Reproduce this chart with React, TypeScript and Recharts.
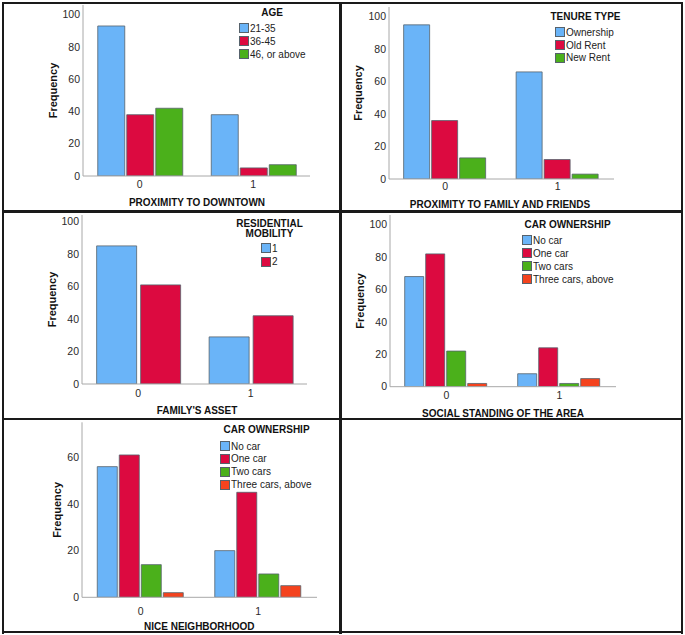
import { BarChart, Bar, XAxis, YAxis, Label } from "recharts";

const FONT = "'Liberation Sans', Arial, Helvetica, sans-serif";

const BLUE = "#6ab4f8";
const RED = "#dc0a40";
const GREEN = "#4bb01b";
const ORANGE = "#f4431e";

// categories on every x axis
const cats = ["0", "1"];

// y ticks
const ticks100 = [0, 20, 40, 60, 80, 100];
const ticks60 = [0, 20, 40, 60];

// AGE by proximity to downtown
const ageNames = ["21-35", "36-45", "46, or above"];
const age2135 = [93, 38];
const age3645 = [38, 5];
const age46 = [42, 7];

// TENURE TYPE by proximity to family and friends
const tenureNames = ["Ownership", "Old Rent", "New Rent"];
const ownership = [95, 66];
const oldRent = [36, 12];
const newRent = [13, 3];

// RESIDENTIAL MOBILITY by family's asset
const mobilityNames = ["1", "2"];
const mobility1 = [85, 29];
const mobility2 = [61, 42];

// CAR OWNERSHIP by social standing of the area
const carNames = ["No car", "One car", "Two cars", "Three cars, above"];
const socialNoCar = [68, 8];
const socialOneCar = [82, 24];
const socialTwoCars = [22, 2];
const socialThreeCars = [2, 5];

// CAR OWNERSHIP by nice neighborhood
const niceNoCar = [56, 20];
const niceOneCar = [61, 45];
const niceTwoCars = [14, 10];
const niceThreeCars = [2, 5];

const toRows = (series: number[][]) =>
  cats.map((c, i) => {
    const row: any = { cat: c };
    series.forEach((s, k) => (row["s" + k] = s[i]));
    return row;
  });

type Box = { x: number; y: number; w: number; h: number };
type Plot = { left: number; right: number; top: number; bottom: number };

interface PanelProps {
  box: Box;
  plot: Plot;
  yMax: number;
  yTicks: number[];
  series: number[][];
  names: string[];
  colors: string[];
  xTitle: string;
  xTitleX: number;
  xTitleY: number;
  tickGap: number;
  freqX: number;
  barGap: number;
  legendTitle: string[];
  legendTitleX: number;
  legendTitleY: number;
  swatchX: number;
  rowY: number;
  rowStep: number;
}

function Panel(p: PanelProps) {
  const { box, plot } = p;
  const data = toRows(p.series);
  const margin = {
    top: plot.top - box.y,
    right: box.x + box.w - plot.right,
    bottom: 0,
    left: 0,
  };
  const yW = plot.left - box.x;
  const xH = box.y + box.h - plot.bottom;
  const fx = p.freqX - box.x;
  const fy = (plot.top + plot.bottom) / 2 - box.y;

  return (
    <div style={{ position: "absolute", left: box.x, top: box.y, width: box.w, height: box.h }}>
      <BarChart
        width={box.w}
        height={box.h}
        data={data}
        margin={margin}
        barGap={p.barGap}
        barCategoryGap="13%"
      >
        <XAxis
          dataKey="cat"
          height={xH}
          tickLine={false}
          tickSize={0}
          tickMargin={p.tickGap - 4}
          stroke="#a8a8a8"
          tick={{ fill: "#2a2a2a", fontSize: 10.5, fontFamily: FONT }}
        >
          <Label
            content={() => (
              <text
                x={p.xTitleX - box.x}
                y={p.xTitleY - box.y}
                textAnchor="middle"
                dominantBaseline="central"
                fontFamily={FONT}
                fontSize={10}
                fontWeight="bold"
                fill="#111"
              >
                {p.xTitle}
              </text>
            )}
          />
        </XAxis>
        <YAxis
          width={yW}
          type="number"
          domain={[0, p.yMax]}
          allowDataOverflow
          ticks={p.yTicks}
          tickLine={false}
          tickSize={0}
          tickMargin={3}
          stroke="#a8a8a8"
          tick={{ fill: "#2a2a2a", fontSize: 10.5, fontFamily: FONT }}
        >
          <Label
            content={() => (
              <text
                x={fx}
                y={fy}
                transform={`rotate(-90 ${fx} ${fy})`}
                textAnchor="middle"
                dominantBaseline="central"
                fontFamily={FONT}
                fontSize={11}
                fontWeight="bold"
                fill="#111"
              >
                Frequency
              </text>
            )}
          />
        </YAxis>
        {p.series.map((_, k) => (
          <Bar
            key={k}
            dataKey={"s" + k}
            name={p.names[k]}
            fill={p.colors[k]}
            stroke="#56626c"
            strokeWidth={0.8}
            isAnimationActive={false}
          />
        ))}
      </BarChart>

      {/* Legend */}
      {p.legendTitle.map((line, i) => (
        <div
          key={line}
          style={{
            position: "absolute",
            left: p.legendTitleX - box.x - 80,
            width: 160,
            top: p.legendTitleY - box.y - 5 + i * 9.5,
            height: 10,
            lineHeight: "10px",
            textAlign: "center",
            fontFamily: FONT,
            fontSize: 10,
            fontWeight: "bold",
            color: "#111",
          }}
        >
          {line}
        </div>
      ))}
      {p.names.map((n, k) => (
        <div
          key={n}
          style={{
            position: "absolute",
            left: p.swatchX - box.x,
            top: p.rowY - box.y + k * p.rowStep - 6,
            height: 12,
            display: "flex",
            alignItems: "center",
            fontFamily: FONT,
            fontSize: 10,
            color: "#222",
            whiteSpace: "nowrap",
          }}
        >
          <span
            style={{
              display: "inline-block",
              boxSizing: "border-box",
              width: 10,
              height: 10,
              background: p.colors[k],
              border: "1px solid #56626c",
              marginRight: 1,
            }}
          />
          {n}
        </div>
      ))}
    </div>
  );
}

const line = (s: any) => ({ position: "absolute" as const, background: "#1a1a1a", ...s });

export default function App() {
  return (
    <div
      style={{
        position: "absolute",
        left: 0,
        top: 0,
        width: 685,
        height: 635,
        background: "#fff",
        overflow: "hidden",
      }}
    >
      <Panel
        box={{ x: 3, y: 3, w: 335, h: 207 }}
        plot={{ left: 83, right: 310, top: 5, bottom: 176 }}
        yMax={106}
        yTicks={ticks100}
        series={[age2135, age3645, age46]}
        names={ageNames}
        colors={[BLUE, RED, GREEN]}
        xTitle="PROXIMITY TO DOWNTOWN"
        xTitleX={197}
        xTitleY={202}
        tickGap={9}
        freqX={53}
        barGap={2}
        legendTitle={["AGE"]}
        legendTitleX={272}
        legendTitleY={13}
        swatchX={239}
        rowY={28}
        rowStep={13}
      />
      <Panel
        box={{ x: 341, y: 3, w: 339, h: 207 }}
        plot={{ left: 389, right: 614, top: 7, bottom: 179 }}
        yMax={106}
        yTicks={ticks100}
        series={[ownership, oldRent, newRent]}
        names={tenureNames}
        colors={[BLUE, RED, GREEN]}
        xTitle="PROXIMITY TO FAMILY AND FRIENDS"
        xTitleX={500}
        xTitleY={204}
        tickGap={8}
        freqX={358}
        barGap={2}
        legendTitle={["TENURE TYPE"]}
        legendTitleX={585.5}
        legendTitleY={16.7}
        swatchX={555}
        rowY={32.3}
        rowStep={12.7}
      />
      <Panel
        box={{ x: 3, y: 213, w: 335, h: 205 }}
        plot={{ left: 82, right: 307, top: 215, bottom: 384 }}
        yMax={104}
        yTicks={ticks100}
        series={[mobility1, mobility2]}
        names={mobilityNames}
        colors={[BLUE, RED]}
        xTitle="FAMILY'S ASSET"
        xTitleX={197}
        xTitleY={410.7}
        tickGap={10}
        freqX={52}
        barGap={4}
        legendTitle={["RESIDENTIAL", "MOBILITY"]}
        legendTitleX={269.5}
        legendTitleY={224}
        swatchX={261}
        rowY={248.3}
        rowStep={13.4}
      />
      <Panel
        box={{ x: 341, y: 213, w: 339, h: 205 }}
        plot={{ left: 390, right: 616, top: 215, bottom: 386.7 }}
        yMax={106}
        yTicks={ticks100}
        series={[socialNoCar, socialOneCar, socialTwoCars, socialThreeCars]}
        names={carNames}
        colors={[BLUE, RED, GREEN, ORANGE]}
        xTitle="SOCIAL STANDING OF THE AREA"
        xTitleX={503}
        xTitleY={413.7}
        tickGap={9}
        freqX={360}
        barGap={2}
        legendTitle={["CAR OWNERSHIP"]}
        legendTitleX={567.5}
        legendTitleY={225}
        swatchX={522}
        rowY={240}
        rowStep={13}
      />
      <Panel
        box={{ x: 3, y: 421, w: 335, h: 210 }}
        plot={{ left: 82, right: 317, top: 422.3, bottom: 597.3 }}
        yMax={75}
        yTicks={ticks60}
        series={[niceNoCar, niceOneCar, niceTwoCars, niceThreeCars]}
        names={carNames}
        colors={[BLUE, RED, GREEN, ORANGE]}
        xTitle="NICE NEIGHBORHOOD"
        xTitleX={199.3}
        xTitleY={626}
        tickGap={14.5}
        freqX={57}
        barGap={2}
        legendTitle={["CAR OWNERSHIP"]}
        legendTitleX={266.5}
        legendTitleY={430}
        swatchX={220}
        rowY={446}
        rowStep={12.9}
      />

      {/* panel borders */}
      <div style={line({ left: 1.5, top: 1.5, width: 681, height: 2 })} />
      <div style={line({ left: 1.5, top: 631.3, width: 681, height: 2 })} />
      <div style={line({ left: 1.5, top: 1.5, width: 2, height: 632 })} />
      <div style={line({ left: 680.5, top: 1.5, width: 2, height: 632 })} />
      <div style={line({ left: 338.5, top: 1.5, width: 3, height: 632 })} />
      <div style={line({ left: 1.5, top: 209.5, width: 681, height: 3 })} />
      <div style={line({ left: 1.5, top: 417.8, width: 681, height: 2.5 })} />
    </div>
  );
}
